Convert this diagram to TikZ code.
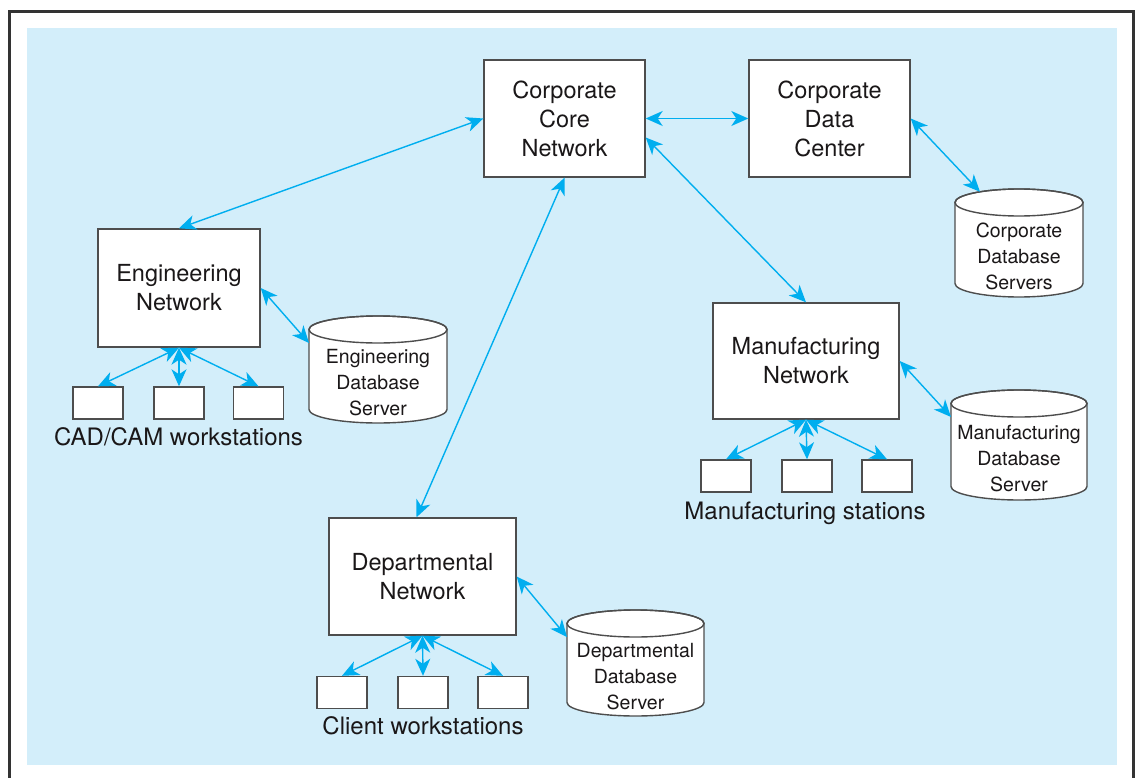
\documentclass[tikz,border=0pt]{standalone}
\usepackage{fontspec}
\setmainfont{TeX Gyre Heros}
\usetikzlibrary{arrows.meta,calc}
\definecolor{bgblue}{HTML}{D3EEFA}
\definecolor{arrowblue}{HTML}{00AEEF}
\definecolor{framegray}{HTML}{333333}
\definecolor{boxgray}{HTML}{4D4D4D}
\definecolor{txt}{HTML}{1A1718}

\newcommand{\dbcyl}[6]{%
  \pgfmathsetmacro\dbrx{(#3-#2)/2}%
  \node[dbhold, minimum width={(#3-#2)*1pt}, minimum height={(#5-#4)*1pt}] (#1) at ({(#2+#3)/2},{(#4+#5)/2}) {};
  \draw[dbline] ($(#1.north west)+(0,-13.5pt)$) -- ($(#1.south west)+(0,13.5pt)$)
     arc[start angle=180, end angle=360, x radius=\dbrx pt, y radius=13.5pt]
     -- ($(#1.north east)+(0,-13.5pt)$)
     arc[start angle=0, end angle=180, x radius=\dbrx pt, y radius=13.5pt] -- cycle;
  \draw[draw=boxgray, line width=1.4pt] ($(#1.north)+(0,-13.5pt)$) ellipse[x radius=\dbrx pt, y radius=13.5pt];
  \node[dbtext] (#1-text) at ($(#1.center)+(0,-13.5pt)$) {#6};
  \coordinate (#1-port) at ($(#1.north west)+(0,-27pt)$);
}

\begin{document}
\begin{tikzpicture}[x=1pt,y=-1pt,
  netbox/.style={draw=boxgray, line width=1.4pt, fill=white, align=center, inner sep=0pt, font=\fontsize{23.5}{29}\selectfont, text=txt},
  ws/.style={draw=boxgray, line width=1.4pt, fill=white, minimum width=50pt, minimum height=32pt, inner sep=0pt},
  lbl/.style={font=\fontsize{24}{29}\selectfont, text=txt, anchor=base, inner sep=0pt},
  dbtext/.style={font=\fontsize{19.5}{26}\selectfont, text=txt, align=center, inner sep=0pt},
  dbhold/.style={inner sep=0pt, outer sep=0pt},
  dbline/.style={draw=boxgray, line width=1.4pt, fill=white},
  blutip/.tip={Stealth[length=17pt,width=15pt,inset=5pt]},
  link/.style={draw=arrowblue, line width=1.4pt, blutip-blutip}
]
\useasboundingbox (0,0) rectangle (1135,778);
\fill[bgblue] (27,28) rectangle (1117,765);
\draw[framegray, line width=2.6pt] (9.7,778) -- (9.7,11.3) -- (1133.6,11.3) -- (1133.6,778);

% network boxes
\node[netbox, minimum width=161pt, minimum height=117pt] (core) at (564.5,118.5) {Corporate\\Core\\Network};
\node[netbox, minimum width=161pt, minimum height=117pt] (dc) at (829.5,118.5) {Corporate\\Data\\Center};
\node[netbox, minimum width=162pt, minimum height=118pt] (eng) at (179,288) {Engineering\\Network};
\node[netbox, minimum width=186pt, minimum height=116pt] (mfg) at (806,361) {Manufacturing\\Network};
\node[netbox, minimum width=187pt, minimum height=117pt] (dept) at (422.5,576.5) {Departmental\\Network};

% database cylinders
\dbcyl{cdb}{955}{1083}{189}{297}{Corporate\\Database\\Servers}
\dbcyl{edb}{309}{447}{316}{423}{Engineering\\Database\\Server}
\dbcyl{mdb}{951}{1087}{390}{500}{Manufacturing\\Database\\Server}
\dbcyl{ddb}{567}{704}{610}{716}{Departmental\\Database\\Server}
\coordinate (cdb-top) at ($(cdb.north west)+(25pt,-2.8pt)$);

% workstations
\node[ws] (e1) at (98,403) {};
\node[ws] (e2) at (179,403) {};
\node[ws] (e3) at (258.5,403) {};
\node[ws] (m1) at (726,476) {};
\node[ws] (m2) at (807,476) {};
\node[ws] (m3) at (887,476) {};
\node[ws] (d1) at (342,692.5) {};
\node[ws] (d2) at (423,692.5) {};
\node[ws] (d3) at (503,692.5) {};

% labels
\node[lbl] (elbl) at (178.5,445) {CAD/CAM workstations};
\node[lbl] (mlbl) at (805,519) {Manufacturing stations};
\node[lbl] (dlbl) at (423,734) {Client workstations};

% connectors
\draw[link] (core.east) -- (dc.west);
\draw[link] (core.west) -- (eng.north);
\draw[link] ([yshift=-19pt]core.east) -- (mfg.north);
\draw[link] (core.south) -- ([xshift=-6pt]dept.north);
\draw[link] (dc.east) -- (cdb-top);
\draw[link] (eng.east) -- (edb-port);
\draw[link] (mfg.east) -- (mdb-port);
\draw[link] (dept.east) -- (ddb-port);
\foreach \w in {e1,e2,e3} \draw[link] (eng.south) -- (\w.north);
\foreach \w in {m1,m2,m3} \draw[link] (mfg.south) -- (\w.north);
\foreach \w in {d1,d2,d3} \draw[link] (dept.south) -- (\w.north);
\end{tikzpicture}
\end{document}
